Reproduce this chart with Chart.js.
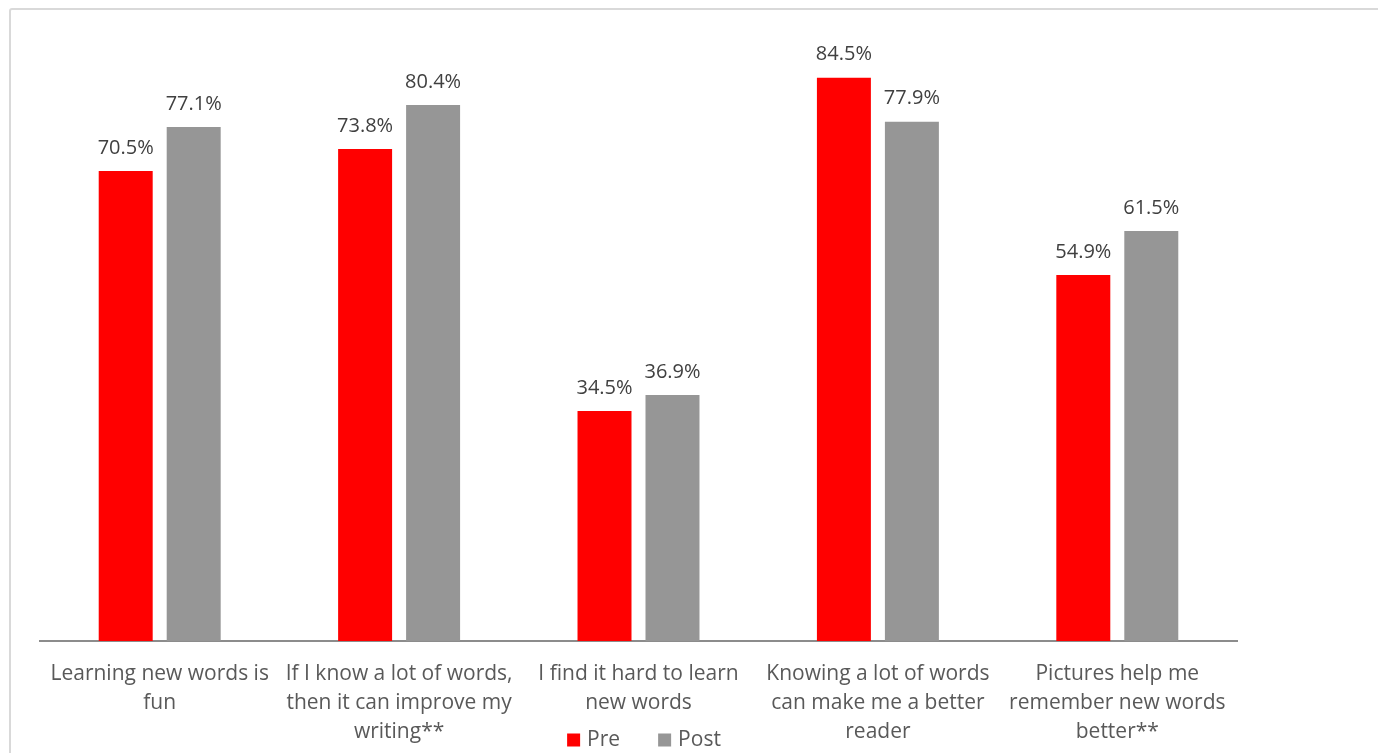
<!DOCTYPE html>
<html lang="en">
  <head>
    <meta charset="UTF-8" />
    <title>Pre / Post survey</title>
    <style>
      html, body {
        margin: 0;
        padding: 0;
        background: #ffffff;
        overflow: hidden;
      }
      .frame {
        position: absolute;
        left: 9px;
        top: 8px;
        width: 1420px;
        height: 800px;
        border: 2px solid #d9d9d9;
        border-radius: 3px;
      }
      .wrap {
        position: absolute;
        left: 0;
        top: 0;
        width: 1378px;
        height: 753px;
      }
    </style>
  </head>
  <body>
    <div class="frame"></div>
    <div class="wrap">
      <canvas id="chart" width="1378" height="753"></canvas>
    </div>

    <script src="https://cdn.jsdelivr.net/npm/chart.js"></script>
    <script>
      // du lieu
      const categories = [
        ["Learning new words is", "fun"],
        ["If I know a lot of words,", "then it can improve my", "writing**"],
        ["I find it hard to learn", "new words"],
        ["Knowing a lot of words", "can make me a better", "reader"],
        ["Pictures help me", "remember new words", "better**"],
      ];
      const preValues = [70.5, 73.8, 34.5, 84.5, 54.9];
      const postValues = [77.1, 80.4, 36.9, 77.9, 61.5];
      const seriesNames = ["Pre", "Post"];

      const FONT = "'Open Sans', 'Noto Sans', sans-serif";

      // nhan gia tri tren cot
      const valueLabels = {
        id: "valueLabels",
        afterDatasetsDraw(chart) {
          const ctx = chart.ctx;
          ctx.save();
          ctx.font = "20px " + FONT;
          ctx.fillStyle = "#404040";
          ctx.textAlign = "center";
          ctx.textBaseline = "bottom";
          chart.data.datasets.forEach((ds, i) => {
            chart.getDatasetMeta(i).data.forEach((bar, j) => {
              ctx.fillText(ds.data[j].toFixed(1) + "%", bar.x, bar.y - 13);
            });
          });
          ctx.restore();
        },
      };

      // chu giai ve tay, nam duoi truc
      const bottomLegend = {
        id: "bottomLegend",
        afterDraw(chart) {
          const ctx = chart.ctx;
          ctx.save();
          ctx.font = "21px " + FONT;
          ctx.textBaseline = "middle";
          const box = 13, gap = 7, spacing = 38;
          const items = chart.data.datasets.map((ds) => ({
            text: ds.label,
            color: ds.backgroundColor,
            w: box + gap + ctx.measureText(ds.label).width,
          }));
          let total = items.reduce((s, it) => s + it.w, 0) + spacing * (items.length - 1);
          let x = 644 - total / 2;
          const y = 740;
          items.forEach((it) => {
            ctx.fillStyle = it.color;
            ctx.fillRect(x, y - box / 2, box, box);
            ctx.fillStyle = "#595959";
            ctx.fillText(it.text, x + box + gap, y);
            x += it.w + spacing;
          });
          ctx.restore();
        },
      };

      const ctx = document.getElementById("chart").getContext("2d");
      new Chart(ctx, {
        type: "bar",
        data: {
          labels: categories,
          datasets: [
            {
              label: seriesNames[0],
              data: preValues,
              backgroundColor: "#ff0000",
              categoryPercentage: 0.568,
              barPercentage: 0.794,
            },
            {
              label: seriesNames[1],
              data: postValues,
              backgroundColor: "#969696",
              categoryPercentage: 0.568,
              barPercentage: 0.794,
            },
          ],
        },
        options: {
          responsive: false,
          animation: false,
          layout: {
            padding: { left: 40, right: 141, top: 41, bottom: 0 },
          },
          plugins: {
            legend: { display: false },
            tooltip: { enabled: false },
          },
          scales: {
            y: {
              display: false,
              min: 0,
              max: 90,
            },
            x: {
              grid: { display: false, drawTicks: false },
              border: { display: true, color: "#8c8c8c", width: 2 },
              ticks: {
                color: "#595959",
                font: { family: FONT, size: 21, lineHeight: 1.38 },
                padding: 19,
                maxRotation: 0,
                autoSkip: false,
              },
              afterFit(scale) {
                scale.height = 112;
              },
            },
          },
        },
        plugins: [valueLabels, bottomLegend],
      });
    </script>
  </body>
</html>
